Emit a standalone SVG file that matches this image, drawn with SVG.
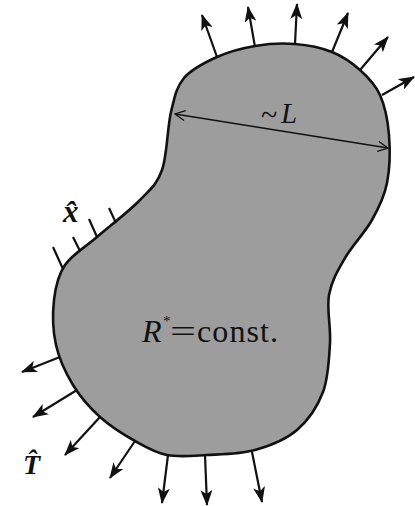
<svg xmlns="http://www.w3.org/2000/svg" width="415" height="506" viewBox="0 0 415 506">
<style>
.arr{stroke:#111;stroke-width:2.2;fill:none;marker-end:url(#ah)}
.tick{stroke:#111;stroke-width:2.2;fill:none}
.lab{font-family:"Liberation Serif",serif;fill:#111}
</style>
<defs>
<marker id="ah" markerUnits="userSpaceOnUse" markerWidth="16" markerHeight="12" viewBox="0 0 16 12" refX="15" refY="6" orient="auto">
<path d="M0,0 L16,6 L0,12 L4,6 Z" fill="#111"/>
</marker>
<marker id="oa" markerUnits="userSpaceOnUse" markerWidth="12" markerHeight="12" viewBox="0 0 12 12" refX="11" refY="6" orient="auto-start-reverse">
<path d="M1,1 L11,6 L1,11" fill="none" stroke="#111" stroke-width="1.3"/>
</marker>
</defs>
<g id="body">
<path d="M171,112 C174.7,96.7 176.3,87.2 184,78 C191.7,68.8 205.2,62.3 217,57 C228.8,51.7 242,48.2 255,46 C268,43.8 282.2,43 295,44 C307.8,45 321.2,47.7 332,52 C342.8,56.3 352,62.8 360,70 C368,77.2 375.2,84.2 380,95 C384.8,105.8 387.8,120.3 389,135 C390.2,149.7 389.8,168.8 387,183 C384.2,197.2 379,207.5 372,220 C365,232.5 352.2,245.5 345,258 C337.8,270.5 331.5,280.8 329,295 C326.5,309.2 331,326.8 330,343 C329,359.2 328.5,377.5 323,392 C317.5,406.5 308.3,420.3 297,430 C285.7,439.7 270,445.8 255,450 C240,454.2 221.7,454.2 207,455 C192.3,455.8 179,457.3 167,455 C155,452.7 146.2,447.3 135,441 C123.8,434.7 110.3,426.3 100,417 C89.7,407.7 80.3,397 73,385 C65.7,373 59.2,359.2 56,345 C52.8,330.8 52.5,313.3 54,300 C55.5,286.7 57.8,275.5 65,265 C72.2,254.5 84.5,247.8 97,237 C109.5,226.2 129.2,211.2 140,200 C150.8,188.8 156.8,184.7 162,170 C167.2,155.3 167.3,127.3 171,112 Z" fill="#9d9d9d" stroke="#111" stroke-width="2.6"/>
<text class="lab" x="142" y="342" font-size="32" font-style="italic">R</text>
<text class="lab" x="163" y="326" font-size="15">*</text>
<text class="lab" x="170" y="342" font-size="32" textLength="26" lengthAdjust="spacingAndGlyphs">=</text>
<text class="lab" x="197" y="342" font-size="32" textLength="81" lengthAdjust="spacing">const.</text>
</g>
<g id="connectors">
<line class="arr" x1="217" y1="57" x2="202" y2="15"/>
<line class="arr" x1="255" y1="47" x2="248" y2="7"/>
<line class="arr" x1="295" y1="44" x2="297" y2="4"/>
<line class="arr" x1="332" y1="52" x2="348" y2="13"/>
<line class="arr" x1="360" y1="70" x2="388" y2="37"/>
<line class="arr" x1="382" y1="95" x2="414" y2="77"/>
<line class="arr" x1="60" y1="357" x2="22" y2="372"/>
<line class="arr" x1="77" y1="390" x2="33" y2="417"/>
<line class="arr" x1="100" y1="417" x2="65" y2="455"/>
<line class="arr" x1="135" y1="441" x2="110" y2="478"/>
<line class="arr" x1="168" y1="455" x2="162" y2="503"/>
<line class="arr" x1="205" y1="455" x2="207" y2="505"/>
<line class="arr" x1="252" y1="452" x2="262" y2="502"/>
<line class="tick" x1="63" y1="269" x2="53" y2="247"/>
<line class="tick" x1="80" y1="251" x2="73" y2="237"/>
<line class="tick" x1="97" y1="237" x2="89" y2="219"/>
<line class="tick" x1="116" y1="223" x2="109" y2="208"/>
<line x1="175" y1="114" x2="388" y2="148" stroke="#111" stroke-width="1.3" marker-start="url(#oa)" marker-end="url(#oa)"/>
</g>
<g id="labels">
<text class="lab" x="261" y="125" font-size="30">~</text>
<text class="lab" x="281" y="123" font-size="29" font-style="italic">L</text>
<text class="lab" x="63" y="222" font-size="31" font-style="italic" font-weight="bold">x̂</text>
<text class="lab" x="23" y="474" font-size="28" font-style="italic" font-weight="bold">T̂</text>
</g>
</svg>
